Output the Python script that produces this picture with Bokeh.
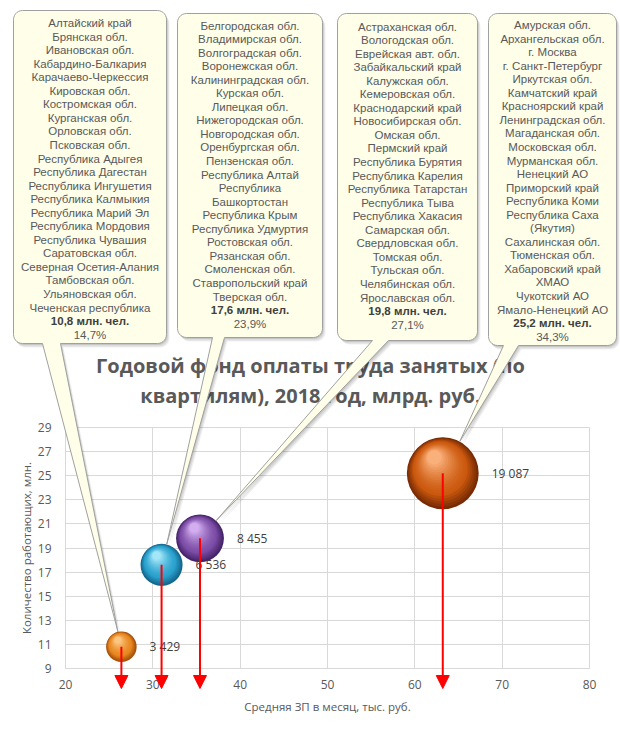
import numpy as np
from bokeh.plotting import figure
from bokeh.models import Range1d, FixedTicker, ColumnDataSource, Arrow, NormalHead, Grid
from bokeh.core.properties import value
from bokeh.embed import file_html
from bokeh.resources import INLINE

# ---------------- data ----------------
avg_wage = [26.4, 31.0, 35.4, 63.2]          # x: average monthly wage, thous. rub
employed = [10.8, 17.6, 19.8, 25.2]          # y: employed, mln
wage_fund = [3429, 6536, 8455, 19087]        # bubble: annual wage fund, bln rub
share_pct = [14.7, 23.9, 27.1, 34.3]         # share of employed, %

regions_q1 = ["Алтайский край", "Брянская обл.", "Ивановская обл.", "Кабардино-Балкария",
              "Карачаево-Черкессия", "Кировская обл.", "Костромская обл.", "Курганская обл.",
              "Орловская обл.", "Псковская обл.", "Республика Адыгея", "Республика Дагестан",
              "Республика Ингушетия", "Республика Калмыкия", "Республика Марий Эл",
              "Республика Мордовия", "Республика Чувашия", "Саратовская обл.",
              "Северная Осетия-Алания", "Тамбовская обл.", "Ульяновская обл.",
              "Чеченская республика"]
regions_q2 = ["Белгородская обл.", "Владимирская обл.", "Волгоградская обл.", "Воронежская обл.",
              "Калининградская обл.", "Курская обл.", "Липецкая обл.", "Нижегородская обл.",
              "Новгородская обл.", "Оренбургская обл.", "Пензенская обл.", "Республика Алтай",
              "Республика", "Башкортостан", "Республика Крым", "Республика Удмуртия",
              "Ростовская обл.", "Рязанская обл.", "Смоленская обл.", "Ставропольский край",
              "Тверская обл."]
regions_q3 = ["Астраханская обл.", "Вологодская обл.", "Еврейская авт. обл.", "Забайкальский край",
              "Калужская обл.", "Кемеровская обл.", "Краснодарский край", "Новосибирская обл.",
              "Омская обл.", "Пермский край", "Республика Бурятия", "Республика Карелия",
              "Республика Татарстан", "Республика Тыва", "Республика Хакасия", "Самарская обл.",
              "Свердловская обл.", "Томская обл.", "Тульская обл.", "Челябинская обл.",
              "Ярославская обл."]
regions_q4 = ["Амурская обл.", "Архангельская обл.", "г. Москва", "г. Санкт-Петербург",
              "Иркутская обл.", "Камчатский край", "Красноярский край", "Ленинградская обл.",
              "Магаданская обл.", "Московская обл.", "Мурманская обл.", "Ненецкий АО",
              "Приморский край", "Республика Коми", "Республика Саха", "(Якутия)",
              "Сахалинская обл.", "Тюменская обл.", "Хабаровский край", "ХМАО",
              "Чукотский АО", "Ямало-Ненецкий АО"]

x_ticks = [20, 30, 40, 50, 60, 70, 80]
y_ticks = [9, 11, 13, 15, 17, 19, 21, 23, 25, 27, 29]

title_lines = ["Годовой фонд оплаты труда занятых (по", "квартилям), 2018 год, млрд. руб."]
x_title = "Средняя ЗП в месяц, тыс. руб."
y_title = "Количество работающих, млн."

# ---------------- layout ----------------
W, H = 620, 731
PL, PR, PT, PB = 65, 589, 427, 668          # plot area in page pixels
X0, X1 = x_ticks[0], x_ticks[-1]
Y0, Y1 = y_ticks[0], y_ticks[-1]
KX = (PR - PL) / (X1 - X0)
KY = (PB - PT) / (Y1 - Y0)


def dx(px):
    return X0 + (np.asarray(px, dtype=float) - PL) / KX


def dy(py):
    return Y0 + (PB - np.asarray(py, dtype=float)) / KY


p = figure(width=W, height=H, output_backend="svg", toolbar_location=None, tools="",
           x_range=Range1d(X0 - PL / KX, X1 + (W - PR) / KX),
           y_range=Range1d(Y0 - (H - PB) / KY, Y1 + PT / KY),
           min_border=0, outline_line_color=None,
           background_fill_color="white", border_fill_color="white")

GRAY = "#595959"
FONT = "Open Sans"

# axes fixed to the plot area
xa = p.xaxis[0]
xa.fixed_location = Y0
xa.bounds = (X0, X1)
xa.ticker = FixedTicker(ticks=x_ticks)
xa.axis_line_color = "#D9D9D9"
ya = p.yaxis[0]
ya.fixed_location = X0
ya.bounds = (Y0, Y1)
ya.ticker = FixedTicker(ticks=y_ticks)
ya.axis_line_color = None
for ax in (xa, ya):
    ax.major_tick_line_color = None
    ax.minor_tick_line_color = None
    ax.major_tick_out = 0
    ax.major_tick_in = 0
    ax.major_label_text_font = FONT
    ax.major_label_text_font_size = "12px"
    ax.major_label_text_color = GRAY
    ax.axis_label_text_font = FONT
    ax.axis_label_text_font_size = "11.5px"
    ax.axis_label_text_font_style = "normal"
    ax.axis_label_text_color = GRAY
xa.axis_label = x_title
ya.axis_label = y_title
xa.major_label_standoff = 11
xa.axis_label_standoff = 7
ya.major_label_standoff = 14
ya.axis_label_standoff = 1

# grid restricted to the plot area
has_cross = "cross_bounds" in Grid.properties()
p.xgrid.ticker = FixedTicker(ticks=x_ticks)
p.ygrid.ticker = FixedTicker(ticks=y_ticks)
p.xgrid.grid_line_color = "#D9D9D9"
p.ygrid.grid_line_color = "#D9D9D9"
if has_cross:
    p.xgrid.bounds = (X0, X1)
    p.ygrid.bounds = (Y0, Y1)
    p.xgrid.cross_bounds = (Y0, Y1)
    p.ygrid.cross_bounds = (X0, X1)
else:
    p.xgrid.visible = False
    p.ygrid.visible = False
    p.segment(x0=x_ticks, y0=[Y0] * len(x_ticks), x1=x_ticks, y1=[Y1] * len(x_ticks),
              line_color="#D9D9D9", line_width=1)
    p.segment(x0=[X0] * len(y_ticks), y0=y_ticks, x1=[X1] * len(y_ticks), y1=y_ticks,
              line_color="#D9D9D9", line_width=1)

# title (as text, drawn under the callout tails)
p.text(x=[dx(310)] * 2, y=[float(dy(365)), float(dy(395))], text=title_lines,
       text_align="center", text_baseline="middle", text_font=value(FONT),
       text_font_size="20px", text_font_style="bold", text_color=GRAY)

# ---------------- bubbles (shaded spheres) ----------------
r_px = 0.26 * np.sqrt(np.array(wage_fund, dtype=float))
pal = [("#A24E0B", "#E8881F", "#FBC683"),
       ("#15668C", "#2AA2CE", "#A3E6F8"),
       ("#45236A", "#7D4EA7", "#D2AEF0"),
       ("#782B04", "#CC590E", "#FAB07A")]


def hx(c):
    c = c.lstrip("#")
    return np.array([int(c[i:i + 2], 16) for i in (0, 2, 4)], dtype=float)


def mix(c1, c2, t):
    a, b = hx(c1), hx(c2)
    m = a + (b - a) * t
    return "#%02x%02x%02x" % tuple(int(round(v)) for v in m)


def shade(c, t):
    dark, mid, light = c
    if t < 0.3:
        return mix(dark, mid, t / 0.3)
    return mix(mid, light, ((t - 0.3) / 0.7) ** 1.4)


N = 18
ux, uy = -0.47, 0.88
wx = np.array(avg_wage, dtype=float)
wy = np.array(employed, dtype=float)
for i in range(N):
    t = i / (N - 1)
    scale = 1 - 0.8 * t
    off = 0.5 * t * r_px
    p.scatter(x=wx + off * ux / KX, y=wy + off * uy / KY, size=2 * r_px * scale,
              marker="circle", fill_color=[shade(c, t) for c in pal], line_color=None)

# data labels
lab_src = ColumnDataSource(dict(x=avg_wage, y=employed,
                                text=[f"{v:,}".replace(",", " ") for v in wage_fund],
                                xo=r_px + 13))
p.text("x", "y", "text", source=lab_src, x_offset="xo", text_baseline="middle",
       text_align="left", text_font=value(FONT), text_font_size="12px", text_color="#404040")

# ---------------- callouts ----------------
boxes = [(13, 10, 166, 343), (177, 13, 322, 337), (337, 13, 477, 340), (488, 13, 616, 345)]
tail_bases = [(42, 60), (212, 224), (372, 388), (503, 518)]
first_line = [22.5, 25.0, 26.0, 24.5]
LINE = 13.55
RAD = 9

cx_px = PL + (wx - X0) * KX
cy_px = PB - (wy - Y0) * KY


def callout_path(box, base, tip):
    L, T, R, B = box
    pts = []

    def arc(cx, cy, a0, a1):
        for a in np.linspace(a0, a1, 8):
            pts.append((cx + RAD * np.cos(a), cy + RAD * np.sin(a)))

    arc(L + RAD, T + RAD, np.pi, 1.5 * np.pi)
    arc(R - RAD, T + RAD, 1.5 * np.pi, 2 * np.pi)
    arc(R - RAD, B - RAD, 0, 0.5 * np.pi)
    pts.append((base[1], B))
    pts.append(tip)
    pts.append((base[0], B))
    arc(L + RAD, B - RAD, 0.5 * np.pi, np.pi)
    arr = np.array(pts)
    return arr[:, 0], arr[:, 1]


paths = []
for k in range(4):
    L, T, R, B = boxes[k]
    bm = 0.5 * (tail_bases[k][0] + tail_bases[k][1])
    vx, vy = bm - cx_px[k], B - cy_px[k]
    nrm = np.hypot(vx, vy)
    tip = (cx_px[k] + r_px[k] * vx / nrm, cy_px[k] + r_px[k] * vy / nrm)
    paths.append(callout_path(boxes[k], tail_bases[k], tip))

for (ox, oy, al) in [(3, 4, 0.06), (2, 3, 0.08), (1, 1.5, 0.10)]:
    p.patches(xs=[list(dx(px + ox)) for px, py in paths],
              ys=[list(dy(py + oy)) for px, py in paths],
              fill_color="#000000", fill_alpha=al, line_color=None)
p.patches(xs=[list(dx(px)) for px, py in paths], ys=[list(dy(py)) for px, py in paths],
          fill_color="#FEFEE9", line_color="#A0A0A0", line_width=1)

all_regions = [regions_q1, regions_q2, regions_q3, regions_q4]
tx, ty, tt, tc, ts = [], [], [], [], []
for k in range(4):
    L, T, R, B = boxes[k]
    xc = float(dx(0.5 * (L + R)))
    lines = list(all_regions[k]) + [f"{employed[k]:.1f}".replace(".", ",") + " млн. чел.",
                                     f"{share_pct[k]:.1f}".replace(".", ",") + "%"]
    for j, s in enumerate(lines):
        tx.append(xc)
        ty.append(float(dy(first_line[k] + j * LINE)))
        tt.append(s)
        bold = j == len(lines) - 2
        tc.append("#404040" if bold else "#595959")
        ts.append("bold" if bold else "normal")
co_src = ColumnDataSource(dict(x=tx, y=ty, text=tt, color=tc, style=ts))
p.text("x", "y", "text", source=co_src, text_align="center", text_baseline="middle",
       text_font=value("Liberation Sans"), text_font_size="11.5px",
       text_color="color", text_font_style="style")

# ---------------- red arrows ----------------
arr_src = ColumnDataSource(dict(x=avg_wage, y=employed, ye=[float(dy(688))] * 4))
p.add_layout(Arrow(end=NormalHead(size=13, fill_color="#FF0000", line_color="#FF0000",
                                  line_width=1),
                   x_start="x", y_start="y", x_end="x", y_end="ye", source=arr_src,
                   line_color="#FF0000", line_width=2))

open("out.html", "w").write(file_html(p, INLINE))
